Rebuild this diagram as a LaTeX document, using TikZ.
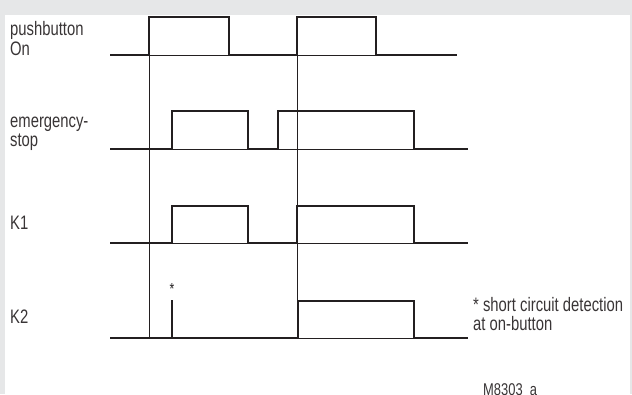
\documentclass[tikz,border=0pt]{standalone}
\usepackage{fontspec}
\setmainfont{Liberation Sans}[FakeStretch=0.76]
\definecolor{bg}{HTML}{E6E7E8}
\definecolor{ink}{HTML}{231F20}
\begin{document}
\begin{tikzpicture}[x=1pt,y=-1pt,
  sig/.style={line width=2.5pt, draw=ink, line join=miter, line cap=rect},
  thinl/.style={line width=0.9pt, draw=ink},
  lab/.style={anchor=base west, inner sep=0pt, align=left, text=ink!90,
    font=\fontsize{19.5}{19.5}\selectfont}]
\useasboundingbox (0,0) rectangle (632,394);
\clip (0,0) rectangle (632,394);
\fill[bg] (0,0) rectangle (632,394);
\fill[white] (5,15) rectangle (630,394);

% vertical reference lines
\draw[thinl] (149,17) -- (149,338);
\draw[thinl] (297,17) -- (297,338);

% pushbutton On
\draw[thinl] (111,55) -- (456,55);
\draw[sig] (111,55) -- (149,55) -- (149,17) -- (229,17) -- (229,55) -- (297,55) -- (297,17) -- (376,17) -- (376,55) -- (456,55);

% emergency stop
\draw[thinl] (111,149) -- (467,149);
\draw[sig] (111,149) -- (172,149) -- (172,111) -- (248,111) -- (248,149) -- (278,149) -- (278,111) -- (414,111) -- (414,149) -- (467,149);

% K1
\draw[thinl] (111,243) -- (467,243);
\draw[sig] (111,243) -- (172,243) -- (172,206) -- (248,206) -- (248,243) -- (297,243) -- (297,206) -- (414,206) -- (414,243) -- (467,243);

% K2
\draw[thinl] (111,338) -- (467,338);
\draw[sig] (111,338) -- (298,338) -- (298,301) -- (414,301) -- (414,338) -- (467,338);
\draw[sig] (172,338) -- (172,301);
\node[inner sep=0pt, text=ink, font=\fontsize{16}{16}\selectfont] (star) at (172,289) {*};

% labels
\node[lab] (pb) at (10,35.7) {pushbutton};
\node[lab] (on) at (10,55) {On};
\node[lab] (em) at (10,127) {emergency-};
\node[lab] (st) at (10,146) {stop};
\node[lab] (k1) at (10,229) {K1};
\node[lab] (k2) at (10,323) {K2};
\node[lab] (n1) at (473,311) {* short circuit detection};
\node[lab] (n2) at (473,330) {at on-button};
\node[lab, font=\fontsize{17}{17}\selectfont] (id) at (483,395) {M8303\_a};
\end{tikzpicture}
\end{document}
